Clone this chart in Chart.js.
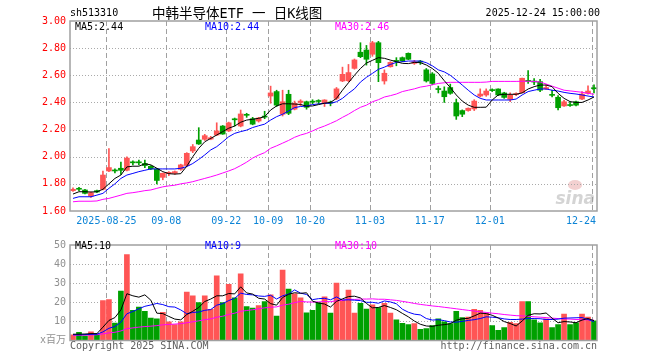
<!DOCTYPE html>
<html><head><meta charset="utf-8">
<script src="https://cdn.jsdelivr.net/npm/chart.js@4.4.1/dist/chart.umd.min.js"></script>
<style>
html,body{margin:0;padding:0;background:#fff;width:660px;height:360px;overflow:hidden;position:relative;font-family:'DejaVu Sans Mono',monospace;}
#c1{position:absolute;left:0;top:0;}
#c2{position:absolute;left:0;top:235px;}
.t{position:absolute;white-space:nowrap;font-size:10px;line-height:12px;color:#000;}
</style></head><body>
<canvas id="c1" width="660" height="235"></canvas>
<canvas id="c2" width="660" height="125"></canvas>
<div class="t" style="left:70px;top:7px;">sh513310</div>
<div class="t" style="left:152px;top:5px;font-size:13.5px;line-height:16px;font-family:'DejaVu Sans Mono','Noto Sans CJK SC',sans-serif;">中韩半导体ETF 一 日K线图</div>
<div class="t" style="right:60px;top:7px;">2025-12-24 15:00:00</div>
<div class="t" style="left:70px;top:340px;color:#606060;">Copyright 2025 SINA.COM</div>
<div class="t" style="right:63px;top:340px;color:#606060;">http://finance.sina.com.cn</div>
<script>
const dates = ['08-15','08-18','08-19','08-20','08-21','08-22','08-25','08-26','08-27','08-28','08-29',
'09-01','09-02','09-03','09-04','09-05','09-08','09-09','09-10','09-11','09-12','09-15','09-16','09-17','09-18','09-19',
'09-22','09-23','09-24','09-25','09-26','09-29','09-30','10-09','10-10','10-13','10-14','10-15','10-16','10-17',
'10-20','10-21','10-22','10-23','10-24','10-27','10-28','10-29','10-30','10-31','11-03','11-04','11-05','11-06','11-07',
'11-10','11-11','11-12','11-13','11-14','11-17','11-18','11-19','11-20','11-21','11-24','11-25','11-26','11-27','11-28',
'12-01','12-02','12-03','12-04','12-05','12-08','12-09','12-10','12-11','12-12','12-15','12-16','12-17','12-18','12-19',
'12-22','12-23','12-24'];
const opens = [1.75,1.765,1.755,1.71,1.75,1.76,1.895,1.90,1.915,1.90,1.96,1.96,1.95,1.93,1.91,1.848,1.875,1.878,1.907,1.935,
2.042,2.123,2.128,2.13,2.16,2.226,2.19,2.278,2.226,2.31,2.28,2.263,2.298,2.447,2.48,2.313,2.46,2.35,2.40,2.405,
2.408,2.413,2.394,2.40,2.43,2.558,2.56,2.651,2.77,2.786,2.755,2.84,2.558,2.663,2.708,2.73,2.762,2.688,2.703,2.64,
2.61,2.50,2.484,2.51,2.398,2.34,2.34,2.352,2.447,2.455,2.493,2.499,2.47,2.423,2.458,2.472,2.561,2.556,2.553,2.50,
2.458,2.438,2.374,2.383,2.405,2.425,2.467,2.507];
const highs = [1.77,1.775,1.76,1.74,1.755,1.895,2.06,1.91,1.96,2.00,1.97,1.975,1.975,1.935,1.915,1.88,1.89,1.895,1.945,2.03,
2.09,2.214,2.165,2.15,2.25,2.23,2.255,2.285,2.344,2.32,2.29,2.29,2.335,2.52,2.49,2.49,2.49,2.41,2.42,2.41,
2.42,2.42,2.42,2.41,2.51,2.66,2.68,2.72,2.84,2.82,2.85,2.85,2.64,2.70,2.73,2.735,2.765,2.71,2.71,2.65,
2.62,2.52,2.515,2.535,2.425,2.345,2.36,2.42,2.50,2.50,2.50,2.50,2.475,2.47,2.47,2.58,2.634,2.575,2.57,2.53,
2.49,2.45,2.415,2.405,2.41,2.48,2.523,2.53];
const lows = [1.745,1.75,1.725,1.70,1.735,1.755,1.89,1.88,1.87,1.895,1.94,1.94,1.92,1.905,1.80,1.83,1.86,1.87,1.90,1.93,
2.03,2.09,2.12,2.125,2.155,2.165,2.185,2.226,2.22,2.29,2.235,2.255,2.28,2.394,2.37,2.30,2.31,2.345,2.375,2.35,
2.39,2.39,2.37,2.375,2.42,2.553,2.553,2.645,2.73,2.675,2.74,2.553,2.535,2.66,2.67,2.70,2.715,2.68,2.68,2.55,
2.53,2.47,2.40,2.46,2.275,2.295,2.335,2.34,2.44,2.445,2.48,2.45,2.43,2.405,2.45,2.47,2.54,2.53,2.48,2.495,
2.44,2.345,2.37,2.37,2.375,2.42,2.46,2.47];
const closes = [1.76,1.76,1.73,1.735,1.74,1.865,1.92,1.895,1.90,1.99,1.955,1.955,1.935,1.91,1.825,1.878,1.885,1.89,1.94,2.025,
2.074,2.094,2.155,2.14,2.19,2.167,2.25,2.272,2.315,2.305,2.24,2.285,2.292,2.47,2.38,2.405,2.32,2.394,2.41,2.364,
2.402,2.407,2.418,2.395,2.50,2.607,2.62,2.713,2.737,2.718,2.84,2.693,2.615,2.695,2.702,2.707,2.718,2.70,2.697,2.558,
2.54,2.495,2.442,2.467,2.30,2.313,2.357,2.41,2.462,2.484,2.487,2.455,2.437,2.455,2.465,2.578,2.555,2.55,2.49,2.51,
2.452,2.361,2.405,2.377,2.38,2.462,2.484,2.501];
const ma5 = [1.725,1.742,1.742,1.740,1.742,1.76,1.80,1.84,1.865,1.925,1.93,1.93,1.948,1.94,1.915,1.89,1.875,1.872,1.875,1.93,
2.00,2.062,2.11,2.135,2.16,2.185,2.21,2.226,2.254,2.27,2.276,2.283,2.295,2.344,2.374,2.39,2.39,2.388,2.385,2.372,
2.374,2.384,2.394,2.40,2.43,2.49,2.545,2.60,2.65,2.69,2.71,2.73,2.725,2.712,2.70,2.688,2.686,2.695,2.693,2.676,
2.65,2.615,2.56,2.51,2.455,2.41,2.38,2.364,2.364,2.365,2.418,2.455,2.46,2.46,2.46,2.47,2.499,2.516,2.528,2.528,
2.516,2.467,2.43,2.406,2.40,2.40,2.418,2.44];
const ma10 = [1.693,1.705,1.705,1.705,1.717,1.73,1.767,1.80,1.84,1.865,1.877,1.89,1.90,1.91,1.91,1.91,1.91,1.91,1.915,1.927,
1.95,1.98,2.013,2.05,2.074,2.11,2.147,2.172,2.185,2.196,2.215,2.228,2.24,2.27,2.295,2.313,2.337,2.362,2.37,2.374,
2.384,2.389,2.394,2.394,2.405,2.43,2.467,2.50,2.55,2.585,2.614,2.644,2.66,2.68,2.695,2.70,2.705,2.705,2.705,2.693,
2.67,2.64,2.625,2.60,2.565,2.528,2.49,2.455,2.43,2.418,2.418,2.418,2.418,2.418,2.425,2.455,2.48,2.49,2.499,2.499,
2.49,2.484,2.474,2.467,2.462,2.455,2.447,2.44];
const ma30 = [1.668,1.672,1.672,1.672,1.674,1.686,1.693,1.705,1.717,1.73,1.735,1.742,1.75,1.755,1.767,1.778,1.785,1.79,1.80,1.807,
1.816,1.828,1.84,1.852,1.865,1.88,1.895,1.912,1.935,1.96,1.99,2.012,2.03,2.062,2.08,2.10,2.12,2.143,2.16,2.172,
2.19,2.21,2.226,2.245,2.265,2.29,2.313,2.34,2.364,2.38,2.405,2.42,2.44,2.45,2.462,2.48,2.49,2.50,2.513,2.52,
2.53,2.54,2.545,2.548,2.548,2.548,2.548,2.548,2.548,2.55,2.555,2.555,2.555,2.555,2.555,2.556,2.556,2.555,2.55,2.536,
2.52,2.505,2.49,2.485,2.48,2.475,2.467,2.46];
const volumes = [3,4.3,2.4,4.6,3.5,20.9,21.4,9.1,25.9,45,15.8,17.5,15.3,11.8,11.3,14.8,9.8,8.3,9.8,25.4,
23.4,19.8,23.4,16.3,33.9,19.8,29.4,22.4,34.9,17.8,17,18.3,20.4,23.9,12.8,36.9,26.9,24.5,22.4,14.5,
15.8,19.8,22.9,14.3,30,21.2,26.4,14.3,19.5,16.5,18.7,17.3,19.5,14.3,10.8,9,8.3,8.8,5.8,6.3,
7.8,11.3,9.8,8.8,15.3,12,12.3,16.3,15.8,14.3,7.8,5.3,6.8,9.5,8.8,20.4,20.4,10.8,9.3,11.3,
6.8,8.3,13.8,8.3,9.3,13.8,12.3,10.3];
const vma5 = [3.3,3.3,3.4,3.6,3.6,7.0,10.5,12.0,16.0,24.5,23.4,22.7,23.9,21.1,14.3,14.1,12.6,11.2,10.8,13.6,
15.3,17.3,20.4,21.7,23.4,23.4,24.6,24.4,28.1,24.9,24.3,22.1,21.7,19.3,18.5,22.5,24.2,25.0,24.7,25.0,
20.6,19.6,19.1,17.5,20.5,21.8,23.0,23.2,22.3,19.4,17.1,17.3,18.3,17.3,16.1,14.2,12.4,10.2,8.5,7.6,
7.4,8.0,8.3,8.8,10.6,11.4,11.6,12.9,14.3,14.1,13.2,11.8,9.9,8.9,7.6,10.2,13.2,14.0,13.9,14.4,
11.7,9.3,9.9,9.7,9.3,10.7,11.5,10.4];
const vma10 = [3.0,3.0,3.1,3.2,3.3,4.5,6.4,7.3,9.6,14.0,15.2,16.6,17.9,18.6,19.4,18.8,17.7,17.5,16.0,14.0,
14.7,14.9,15.8,16.2,18.5,19.3,20.9,22.1,24.8,24.1,23.9,23.3,23.1,23.7,21.7,23.4,24.3,26.5,24.8,24.1,
21.4,21.9,22.1,21.3,22.8,21.2,21.3,21.1,20.9,20.0,20.0,19.5,20.7,20.2,19.2,16.4,14.8,13.8,13.4,11.5,
10.7,10.9,10.4,9.7,9.6,10.0,10.5,10.9,11.5,12.4,12.2,11.9,11.3,11.0,11.0,11.2,11.5,11.5,11.4,11.0,
11.0,11.2,11.7,11.8,11.9,12.0,11.0,9.9];
const vma30 = [2.8,2.8,2.8,2.9,3.0,3.5,4.0,4.3,5.0,6.2,6.6,7.0,7.3,7.5,7.8,8.2,8.4,8.6,8.8,9.3,
9.8,10.3,10.9,11.3,12.2,12.7,13.6,14.3,15.3,15.7,16.1,16.6,17.1,17.4,17.6,18.5,19.0,19.8,20.5,20.2,
20.1,20.2,20.4,20.3,20.8,21.0,21.6,21.5,21.7,21.7,21.8,21.6,21.6,21.3,21.0,20.5,20.0,19.4,18.9,18.5,
18.1,17.8,17.4,17.0,16.6,16.2,15.8,15.4,15.0,14.7,14.3,14.0,13.6,13.3,13.0,12.9,12.7,12.4,12.2,12.0,
11.7,11.5,11.3,11.2,11.0,10.9,10.8,10.6];
const priceTicks = [3.00,2.80,2.60,2.40,2.20,2.00,1.80,1.60];
const volTicks = [50,40,30,20,10,0];
const tickDates = ['08-25','09-08','09-22','10-09','10-20','11-03','11-17','12-01','12-24'];
const tickTexts = ['2025-08-25','09-08','09-22','10-09','10-20','11-03','11-17','12-01','12-24'];
const priceLegend = ['MA5:2.44','MA10:2.44','MA30:2.46'];
const volLegend = ['MA5:10','MA10:9','MA30:10'];

const RED='#ff5555', GREEN='#00a000';
const MONO="'DejaVu Sans Mono','Noto Sans CJK SC',monospace";
const colors = closes.map((c,i)=> c>=opens[i] ? RED : GREEN);
const tickIdx = tickDates.map(d=>dates.indexOf(d));
const legendColors = ['#000000','#0000ff','#ff00ff'];
const legendX = [75,205,335];

function panel(name, hVals, legend, legendY, drawDates, watermark){
  return {
    id:'panel_'+name,
    beforeDatasetsDraw(chart){
      const {ctx, chartArea:a, scales:{x,y}} = chart;
      ctx.save();
      if (watermark){
        ctx.fillStyle='#f3d0d0';
        ctx.beginPath(); ctx.ellipse(a.right-22, a.bottom-26, 7, 5, 0, 0, Math.PI*2); ctx.fill();
        ctx.font="italic bold 17px 'DejaVu Sans',sans-serif";
        ctx.fillStyle='#d4d4d4'; ctx.textAlign='right'; ctx.textBaseline='alphabetic';
        ctx.fillText('sina', a.right-2, a.bottom-7);
      }
      ctx.strokeStyle='#aaaaaa'; ctx.lineWidth=1; ctx.setLineDash([1,2]);
      hVals.forEach(v=>{
        const yy=Math.round(y.getPixelForValue(v))+0.5;
        ctx.beginPath(); ctx.moveTo(a.left,yy); ctx.lineTo(a.right,yy); ctx.stroke();
      });
      ctx.setLineDash([5,3]); ctx.strokeStyle='#a0a0a0';
      tickIdx.forEach(i=>{
        const xx=Math.round(x.getPixelForValue(i)-2.5)+0.5;
        ctx.beginPath(); ctx.moveTo(xx,a.top); ctx.lineTo(xx,a.bottom); ctx.stroke();
      });
      ctx.restore();
    },
    afterDraw(chart){
      const {ctx, chartArea:a, scales:{x}} = chart;
      ctx.save();
      ctx.strokeStyle='#a0a0a0'; ctx.lineWidth=1.5; ctx.setLineDash([]);
      ctx.strokeRect(a.left, a.top, a.right-a.left, a.bottom-a.top);
      ctx.font="10px "+MONO; ctx.textBaseline='middle'; ctx.textAlign='left';
      legend.forEach((t,k)=>{ ctx.fillStyle=legendColors[k]; ctx.fillText(t, legendX[k], legendY); });
      if (drawDates){
        ctx.fillStyle='#0c84d6';
        tickIdx.forEach((i,k)=>{
          const xx=x.getPixelForValue(i)-2.5;
          if (k===tickIdx.length-1){ ctx.textAlign='right'; ctx.fillText(tickTexts[k], a.right-1, a.bottom+10); }
          else { ctx.textAlign='center'; ctx.fillText(tickTexts[k], xx, a.bottom+10); }
        });
      }
      ctx.restore();
    }
  };
}

const lineDs = (data,color)=>({type:'line',data,borderColor:color,borderWidth:1,pointRadius:0,tension:0,order:0,fill:false});

new Chart(document.getElementById('c1'),{
  data:{
    labels:dates,
    datasets:[
      lineDs(ma5,'#000000'), lineDs(ma10,'#0000ff'), lineDs(ma30,'#ff00ff'),
      {type:'bar',data:opens.map((o,i)=>[Math.min(o,closes[i]),Math.max(o,closes[i])]),backgroundColor:colors,barThickness:5,minBarLength:1,grouped:false,order:1,borderWidth:0},
      {type:'bar',data:lows.map((l,i)=>[l,highs[i]]),backgroundColor:colors,barThickness:1,grouped:false,order:2,borderWidth:0}
    ]
  },
  options:{
    responsive:false, animation:false, devicePixelRatio:1, events:[],
    layout:{padding:{top:21,right:63,bottom:24,left:0}},
    plugins:{legend:{display:false},tooltip:{enabled:false}},
    scales:{
      x:{type:'category',display:false,offset:true},
      y:{min:1.6,max:3.0,position:'left',
        afterFit(s){s.width=70;},
        afterBuildTicks(s){s.ticks=priceTicks.map(v=>({value:v}));},
        grid:{display:false,drawTicks:false},border:{display:false},
        ticks:{color:'#ff0000',padding:4,font:{family:MONO,size:10},callback:v=>Number(v).toFixed(2)}}
    }
  },
  plugins:[panel('price',[2.8,2.6,2.4,2.2,2.0,1.8],priceLegend,27,true,true)]
});

new Chart(document.getElementById('c2'),{
  data:{
    labels:dates,
    datasets:[
      lineDs(vma5,'#000000'), lineDs(vma10,'#0000ff'), lineDs(vma30,'#ff00ff'),
      {type:'bar',data:volumes,backgroundColor:colors,barThickness:5,grouped:false,order:1,borderWidth:0}
    ]
  },
  options:{
    responsive:false, animation:false, devicePixelRatio:1, events:[],
    layout:{padding:{top:6,right:63,bottom:19.5,left:0}},
    plugins:{legend:{display:false},tooltip:{enabled:false}},
    scales:{
      x:{type:'category',display:false,offset:true},
      y:{min:0,max:50,position:'left',
        afterFit(s){s.width=70;},
        afterBuildTicks(s){s.ticks=volTicks.map(v=>({value:v}));},
        grid:{display:false,drawTicks:false},border:{display:false},
        ticks:{color:'#909090',padding:4,font:{family:MONO,size:10},callback:v=> v===0 ? 'x百万' : String(v)}}
    }
  },
  plugins:[panel('vol',[40,30,20,10],volLegend,11.7,false,false)]
});
</script>
</body></html>
